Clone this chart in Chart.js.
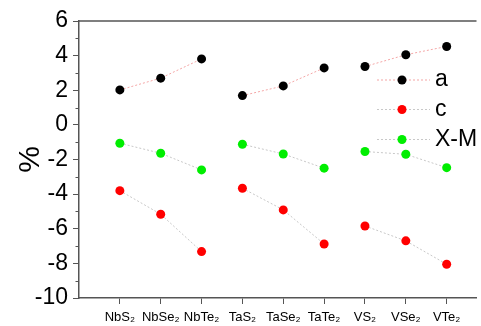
<!DOCTYPE html>
<html>
<head>
<meta charset="utf-8">
<script src="https://cdn.jsdelivr.net/npm/chart.js@4.4.1/dist/chart.umd.min.js"></script>
<style>
  html, body { margin: 0; padding: 0; background: #fff; }
  #wrap { width: 481px; height: 326px; }
</style>
</head>
<body>
<div id="wrap"><canvas id="c"></canvas></div>
<script>
var categories = ["NbS\u2082", "NbSe\u2082", "NbTe\u2082", "TaS\u2082", "TaSe\u2082", "TaTe\u2082", "VS\u2082", "VSe\u2082", "VTe\u2082"];
var aValues  = [2.02, 2.70, 3.81, 1.69, 2.25, 3.29, 3.37, 4.05, 4.53];
var cValues  = [-3.80, -5.16, -7.32, -3.66, -4.91, -6.88, -5.84, -6.70, -8.05];
var xmValues = [-1.06, -1.64, -2.60, -1.12, -1.68, -2.50, -1.54, -1.70, -2.47];
var yTicks = [-10, -8, -6, -4, -2, 0, 2, 4, 6];

var axisColor = '#555';
var font = "'Liberation Sans', Arial, sans-serif";

function pts(vals) {
  return vals.map(function (v, i) { return { x: i + 1, y: v }; });
}

function makeSet(label, vals, dot, line) {
  return {
    label: label,
    data: pts(vals),
    borderColor: line,
    backgroundColor: dot,
    pointBackgroundColor: dot,
    pointBorderColor: dot,
    pointRadius: 4.5,
    pointBorderWidth: 0,
    borderWidth: 1,
    borderDash: [2, 2],
    showLine: true,
    segment: {
      // break the line between the Nb / Ta / V groups
      borderColor: function (ctx) { return ctx.p0DataIndex % 3 === 2 ? 'rgba(0,0,0,0)' : line; }
    }
  };
}

// minor ticks on y, top frame line, and the legend inside the plot
var extras = {
  id: 'extras',
  afterDraw: function (chart) {
    var ctx = chart.ctx, area = chart.chartArea, y = chart.scales.y;
    ctx.save();
    ctx.strokeStyle = axisColor;
    ctx.lineWidth = 1;
    for (var v = -9; v <= 5; v += 2) {
      var py = Math.round(y.getPixelForValue(v)) + 0.5;
      ctx.beginPath();
      ctx.moveTo(area.left - 3.5, py);
      ctx.lineTo(area.left, py);
      ctx.stroke();
    }
    ctx.lineWidth = 1.5;
    ctx.beginPath();
    ctx.moveTo(area.left, area.top);
    ctx.lineTo(area.right, area.top);
    ctx.stroke();

    var ly = [80, 109.5, 139.5];
    chart.data.datasets.forEach(function (ds, i) {
      ctx.strokeStyle = ds.borderColor;
      ctx.lineWidth = 1;
      ctx.setLineDash([2, 2]);
      ctx.beginPath();
      ctx.moveTo(377, ly[i]);
      ctx.lineTo(430, ly[i]);
      ctx.stroke();
      ctx.setLineDash([]);
      ctx.fillStyle = ds.pointBackgroundColor;
      ctx.beginPath();
      ctx.arc(402, ly[i], 4.5, 0, Math.PI * 2);
      ctx.fill();
      ctx.fillStyle = '#000';
      ctx.font = '23px ' + font;
      ctx.textBaseline = 'middle';
      ctx.fillText(ds.label, 435, ly[i]);
    });
    ctx.restore();
  }
};

new Chart(document.getElementById('c'), {
  type: 'scatter',
  data: {
    datasets: [
      makeSet('a', aValues, '#000000', '#f4a6a6'),
      makeSet('c', cValues, '#ff0000', '#c8c8c8'),
      makeSet('X-M', xmValues, '#00ee00', '#c8c8c8')
    ]
  },
  options: {
    responsive: true,
    maintainAspectRatio: false,
    animation: false,
    layout: { padding: { top: 21, right: 0, left: 0, bottom: 0 } },
    plugins: { legend: { display: false }, tooltip: { enabled: false } },
    scales: {
      x: {
        type: 'linear',
        min: 0,
        max: 9.73,
        afterBuildTicks: function (s) {
          s.ticks = categories.map(function (c, i) { return { value: i + 1 }; });
        },
        afterFit: function (s) { s.height = 28; },
        ticks: {
          autoSkip: false,
          maxRotation: 0,
          padding: 6,
          color: '#000',
          font: { family: font, size: 13 },
          callback: function (v) { return categories[v - 1]; }
        },
        grid: { drawOnChartArea: false, drawTicks: true, tickLength: 6, color: axisColor },
        border: { color: axisColor, width: 1.5 }
      },
      y: {
        min: -10,
        max: 6,
        afterBuildTicks: function (s) {
          s.ticks = yTicks.map(function (v) { return { value: v }; });
        },
        afterFit: function (s) { s.width = 79; },
        ticks: {
          padding: 5,
          color: '#000',
          font: { family: font, size: 23 }
        },
        grid: { drawOnChartArea: false, drawTicks: true, tickLength: 6, color: axisColor },
        border: { color: axisColor, width: 1.5 },
        title: {
          display: true,
          text: '%',
          color: '#000',
          font: { family: font, size: 30 },
          padding: { top: 13, bottom: 0 }
        }
      }
    }
  },
  plugins: [extras]
});
</script>
</body>
</html>
